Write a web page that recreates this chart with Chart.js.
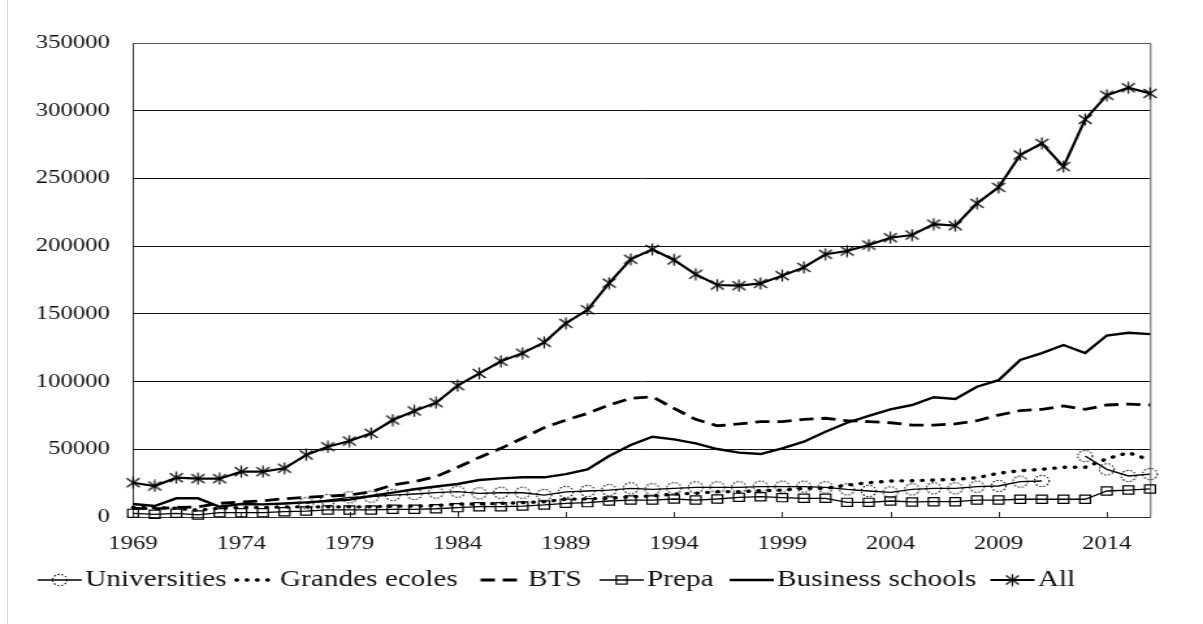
<!DOCTYPE html>
<html>
<head>
<meta charset="utf-8">
<script src="https://cdn.jsdelivr.net/npm/chart.js@4.4.1/dist/chart.umd.min.js"></script>
<style>
  html, body { margin: 0; padding: 0; background: #fff; overflow: hidden; }
  /* the chart is laid out narrow and stretched sideways, like the old export */
  #wrap { position: absolute; left: 0; top: 0; width: 925px; height: 624px;
          transform: scaleX(1.3005); transform-origin: 0 0; }
  #edge { position: absolute; left: 7px; top: 0; width: 1px; height: 624px; background: #d9d9d9; }
</style>
</head>
<body>
<div id="wrap"><canvas id="chart" width="925" height="624"></canvas></div>
<div id="edge"></div>
<script>
const years = [
  "1969", "1970", "1971", "1972", "1973", "1974", "1975", "1976", "1977", "1978",
  "1979", "1980", "1981", "1982", "1983", "1984", "1985", "1986", "1987", "1988",
  "1989", "1990", "1991", "1992", "1993", "1994", "1995", "1996", "1997", "1998",
  "1999", "2000", "2001", "2002", "2003", "2004", "2005", "2006", "2007", "2008",
  "2009", "2010", "2011", "2012", "2013", "2014", "2015", "2016",
];
const xTickYears = ["1969", "1974", "1979", "1984", "1989", "1994", "1999", "2004", "2009", "2014"];
const yMax = 350000;
const yStep = 50000;

const universities = [
  null, null, null, null, null, null, null, null, 10100, 12500,
  14500, 15000, 16200, 17000, 18000, 18700, 17500, 17900, 17900, 16200,
  18500, 19200, 19900, 21200, 20400, 21200, 21900, 21900, 21900, 22400,
  22400, 22400, 21900, 20400, 19200, 18200, 20400, 21200, 21200, 22400,
  22900, 26100, 26600, null, 45000, 35200, 30300, 31700,
];
const grandesEcoles = [
  7000, 7000, 6500, 5000, 6500, 7000, 7000, 7500, 7500, 7500,
  7500, 7500, 8000, 8000, 8500, 9600, 9600, 10100, 10600, 11300,
  13100, 13400, 13800, 15000, 15500, 17000, 17500, 18700, 18700, 19400,
  19900, 21200, 21200, 23600, 25300, 26600, 26800, 27300, 27800, 29000,
  32300, 34200, 35200, 36700, 36700, 43000, 47500, 42000,
];
const bts = [
  6400, 6000, 7000, 7500, 10100, 11000, 12000, 13500, 14500, 15500,
  16200, 18700, 23600, 26100, 29800, 36700, 44000, 50700, 58100, 66000,
  71600, 76500, 82700, 87600, 88800, 80200, 72100, 67400, 68700, 70400,
  70400, 72100, 72900, 71100, 70400, 69600, 67900, 67900, 68700, 71100,
  75300, 78500, 79500, 82000, 79500, 82700, 83400, 82700,
];
const prepa = [
  2700, 2000, 2700, 1500, 3200, 3200, 3200, 3900, 4400, 5200,
  5200, 5200, 5700, 5700, 6100, 6900, 7600, 7600, 8100, 8900,
  10100, 10600, 11800, 12500, 12500, 13300, 12500, 13300, 14500, 15000,
  14300, 13800, 13800, 10800, 10800, 11800, 11100, 11300, 11300, 12500,
  12500, 13100, 13100, 13100, 13100, 19200, 19900, 20700,
];
const businessSchools = [
  9600, 8100, 13800, 13800, 7600, 9600, 9300, 10000, 10800, 11800,
  12800, 15500, 18000, 20500, 22500, 24400, 27300, 28500, 29300, 29300,
  31700, 35200, 45000, 53200, 59300, 57300, 54400, 50200, 47500, 46500,
  50700, 55600, 63000, 69600, 74600, 79500, 82700, 88400, 87100, 96200,
  101000, 116000, 121000, 127000, 121000, 134000, 136000, 135000,
];
const allStudents = [
  25300, 22900, 29000, 28300, 28300, 33500, 33500, 36000, 45800, 51900,
  56100, 61800, 71600, 78300, 84400, 97000, 106000, 115000, 121000, 129000,
  143000, 153000, 172700, 190300, 197600, 189800, 179200, 171300, 170800, 172500,
  178200, 184300, 194000, 196400, 200800, 206200, 208200, 216300, 215100, 231600,
  243400, 267300, 275900, 258700, 293600, 311400, 317000, 312800,
];

const FONT = "'Liberation Serif', 'Times New Roman', serif";
const INK = "#000";

// asterisk marker: a cross plus an upright stroke
function makeStar() {
  const c = document.createElement("canvas");
  c.width = 13; c.height = 13;
  const g = c.getContext("2d");
  g.strokeStyle = INK;
  g.lineWidth = 1.2;
  g.beginPath();
  g.moveTo(1.5, 2); g.lineTo(11.5, 11);
  g.moveTo(11.5, 2); g.lineTo(1.5, 11);
  g.moveTo(6.5, 0.5); g.lineTo(6.5, 12.5);
  g.stroke();
  return c;
}

// open circle with a dotted outline
function makeDottedCircle() {
  const c = document.createElement("canvas");
  c.width = 14; c.height = 14;
  const g = c.getContext("2d");
  g.strokeStyle = "#111";
  g.lineWidth = 1.1;
  g.setLineDash([1.5, 1.5]);
  g.beginPath();
  g.arc(7, 7, 5.6, 0, Math.PI * 2);
  g.stroke();
  return c;
}

const starImg = makeStar();
const circleImg = makeDottedCircle();

function series(label, data, extra) {
  return Object.assign({
    label: label,
    data: data,
    borderColor: INK,
    backgroundColor: "transparent",
    borderWidth: 1.3,
    pointRadius: 0,
    tension: 0,
    fill: false,
    clip: false,
  }, extra);
}

const datasets = [
  series("Universities", universities, {
    pointStyle: circleImg, pointRadius: 5,
  }),
  series("Grandes ecoles", grandesEcoles, {
    borderWidth: 3.4, borderDash: [0.5, 7.4], borderCapStyle: "round",
  }),
  series("BTS", bts, {
    borderWidth: 2.8, borderDash: [11, 6],
  }),
  series("Prepa", prepa, {
    pointStyle: "rect", pointRadius: 5.8, pointBorderWidth: 1.2,
    pointBorderColor: INK, pointBackgroundColor: "transparent",
  }),
  series("Business schools", businessSchools, {
    borderWidth: 2.4,
  }),
  series("All", allStudents, {
    borderWidth: 2.2, pointStyle: starImg, pointRadius: 5,
  }),
];

// top/right frame of the plot and the short inward ticks on the year axis
const frame = {
  id: "frame",
  beforeDatasetsDraw(chart) {
    const { ctx, chartArea: a } = chart;
    const x = chart.scales.x;
    ctx.save();
    ctx.strokeStyle = "#555";
    ctx.lineWidth = 1;
    ctx.beginPath();
    ctx.moveTo(a.left, a.top + 0.5);
    ctx.lineTo(a.right + 0.5, a.top + 0.5);
    ctx.lineTo(a.right + 0.5, a.bottom);
    ctx.stroke();
    ctx.strokeStyle = "#333";
    ctx.beginPath();
    xTickYears.forEach((yr) => {
      const px = Math.round(x.getPixelForValue(years.indexOf(yr))) + 0.5;
      ctx.moveTo(px, a.bottom);
      ctx.lineTo(px, a.bottom - 5);
    });
    ctx.stroke();
    ctx.restore();
  },
};

// legend in one row under the axis: line sample + marker, then the name
const legendTextX = [65.4, 215.3, 406, 497.5, 597.5, 798];
const rowLegend = {
  id: "rowLegend",
  afterDraw(chart) {
    const ctx = chart.ctx;
    const y = 580;
    const sample = 34;
    ctx.save();
    ctx.font = "22.5px " + FONT;
    ctx.textBaseline = "middle";
    ctx.fillStyle = "#111";
    chart.data.datasets.forEach((ds, i) => {
      const tx = legendTextX[i];
      const x0 = tx - 2.5 - sample;
      ctx.save();
      ctx.strokeStyle = INK;
      ctx.lineWidth = ds.borderWidth;
      ctx.lineCap = ds.borderCapStyle || "butt";
      ctx.setLineDash(ds.borderDash || []);
      ctx.lineDashOffset = ds.borderCapStyle === "round" ? -3 : 0;
      ctx.beginPath();
      ctx.moveTo(x0, y);
      ctx.lineTo(x0 + sample, y);
      ctx.stroke();
      ctx.restore();
      const mx = x0 + sample / 2;
      if (ds.pointStyle === "rect") {
        const s = ds.pointRadius * Math.SQRT1_2;
        ctx.save();
        ctx.lineWidth = ds.pointBorderWidth;
        ctx.strokeStyle = INK;
        ctx.strokeRect(mx - s, y - s, s * 2, s * 2);
        ctx.restore();
      } else if (ds.pointStyle && typeof ds.pointStyle === "object") {
        ctx.drawImage(ds.pointStyle, mx - ds.pointStyle.width / 2, y - ds.pointStyle.height / 2);
      }
      ctx.fillText(ds.label, tx, y);
    });
    ctx.restore();
  },
};

new Chart(document.getElementById("chart"), {
  type: "line",
  data: { labels: years, datasets: datasets },
  options: {
    responsive: false,
    animation: false,
    devicePixelRatio: 1,
    events: [],
    layout: { padding: { top: 43, right: 40.7, left: 0, bottom: 0 } },
    plugins: { legend: { display: false }, tooltip: { enabled: false } },
    scales: {
      x: {
        offset: false,
        grid: { display: false, drawTicks: false },
        border: { display: true, color: "#333", width: 1 },
        ticks: {
          autoSkip: false,
          maxRotation: 0,
          padding: 16,
          color: "#111",
          font: { family: FONT, size: 19 },
          callback: (v, i) => (xTickYears.includes(years[i]) ? years[i] : ""),
        },
        afterFit: (s) => { s.height = 107; },
      },
      y: {
        min: 0,
        max: yMax,
        grid: { color: "#111", lineWidth: 1, drawTicks: false },
        border: { display: true, color: "#333", width: 1 },
        ticks: {
          stepSize: yStep,
          padding: 17.7,
          color: "#111",
          font: { family: FONT, size: 19 },
          callback: (v) => String(v),
        },
        afterFit: (s) => { s.width = 102.3; },
      },
    },
  },
  plugins: [frame, rowLegend],
});
</script>
</body>
</html>
